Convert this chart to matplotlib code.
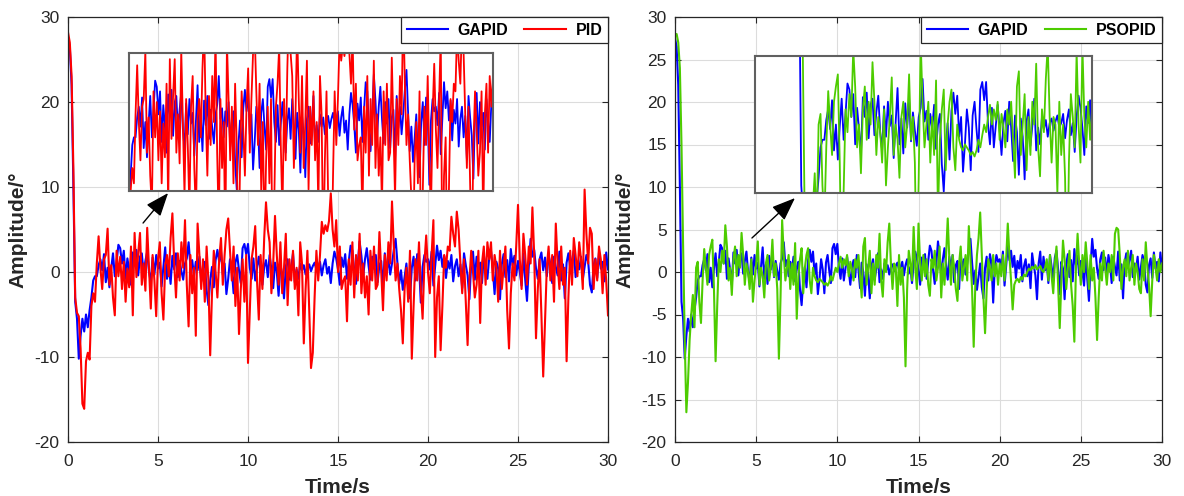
import numpy as np
import matplotlib
matplotlib.use("Agg")
import matplotlib.pyplot as plt

plt.rcParams['font.family'] = ['Liberation Sans', 'DejaVu Sans']
plt.rcParams['axes.unicode_minus'] = False

# ---- data (sampled every 0.1 s, 0..30 s) ----
dt = 0.1
gapid = [
    27.5, 26.5, 22.0, 10.0, -3.5, -5.5, -10.2, -7.5, -5.5, -7.0,
    -5.0, -6.5, -4.5, -3.0, -1.0, -0.5, -0.5, 0.8, 1.5, 0.2,
    2.1, -1.2, 0.5, -1.8, 0.4, 2.2, -0.5, 1.2, 3.2, 2.8,
    1.0, 2.5, -0.8, 1.6, 0.2, -1.5, 2.3, 1.0, 2.6, -0.4,
    1.8, 2.2, -0.2, 1.3, 2.4, 0.0, -1.2, 1.7, -0.3, 2.0,
    0.4, 1.1, -1.7, 0.6, 2.9, -0.8, 0.9, -1.4, 1.9, 0.3,
    2.2, -0.6, 1.3, 0.1, -0.9, 1.0, 1.6, 3.5, 0.7, 1.4,
    -0.5, 1.2, 0.2, 1.8, -1.1, 0.5, 1.2, -2.1, -3.9, -1.0,
    0.6, -1.8, 1.4, 2.6, 1.2, 2.4, -0.3, 1.0, -2.6, -0.8,
    1.5, 0.3, -2.5, 1.1, 2.0, 0.2, -1.3, 2.8, 3.3, 2.1,
    3.3, 0.5, -0.8, 1.6, -1.0, 0.4, 1.8, 0.2, -1.5, 0.6,
    1.4, -0.6, 2.0, 0.3, -1.9, 1.1, 0.0, -2.8, 0.9, -0.3,
    -3.1, 0.7, 1.5, -0.9, 0.4, 2.2, -1.2, 0.3, -0.8, 1.0,
    0.2, 0.8, -0.3, 0.6, 0.9, 0.1, 0.7, 1.1, 0.3, 0.6,
    1.2, -0.4, 0.8, 1.5, -0.2, 0.6, -1.3, 1.0, 2.4, 1.6,
    0.3, -1.5, 1.7, 0.6, 2.1, -0.8, 1.3, 3.1, 2.5, 0.2,
    -1.4, 1.0, 3.6, 1.9, -0.5, 1.5, 2.8, 0.7, -0.9, 1.8,
    0.4, 2.0, -1.2, 0.8, 1.3, -2.0, 2.2, 0.1, 1.5, -0.3,
    1.0, 2.6, 3.9, 1.1, -1.4, 0.2, -2.1, -0.6, 1.0, -1.8,
    -3.1, 0.5, 1.8, -1.0, 2.1, 1.0, -3.6, 0.6, 2.0, 1.2,
    1.5, 0.3, 2.4, -1.6, 0.8, 3.1, 1.4, 2.5, 0.6, 1.9,
    -0.7, 1.3, 0.4, 2.0, -1.1, 0.7, 1.5, -0.5, 0.9, -1.9,
    2.2, 0.8, -0.4, -3.2, 1.0, 2.4, -0.9, 1.8, 0.2, 1.1,
    -1.3, 2.0, 0.6, -0.8, 1.7, 2.5, 0.3, -2.6, 1.2, 0.4,
    -3.2, 0.9, 2.1, -0.6, 1.4, -1.1, 2.7, 0.8, 1.9, -0.4,
    1.3, 0.0, -1.6, 2.2, -0.9, -3.4, 0.7, 3.9, 1.8, 2.6,
    0.4, -0.8, 1.5, 2.3, 0.2, 1.7, -0.5, 2.0, 0.9, -1.3,
    1.8, 0.6, -0.4, 2.4, -1.0, 0.9, -3.1, 1.1, 2.2, 0.5,
    1.4, 2.5, -0.6, 1.0, 0.3, 1.8, -0.9, 0.6, 2.0, 1.2,
    -1.5, -2.4, 0.8, 1.6, -0.7, 2.3, 0.4, 1.2, -1.1, 2.3,
    0.3,
]
pid = [
    28.2, 27.0, 23.0, 12.0, -3.0, -4.8, -5.2, -9.0, -15.5, -16.1,
    -10.5, -9.5, -10.3, -4.0, -2.5, -3.5, 1.0, 4.2, 0.5, -2.0,
    1.5, 2.0, 5.1, -1.5, 0.8, -3.0, -5.1, 2.5, -0.5, 1.8,
    -2.0, 1.2, -3.5, 0.4, -1.8, 3.0, -5.1, 4.6, -0.6, 2.2,
    4.6, -1.5, 1.0, -2.2, 5.2, 0.3, -4.3, 2.0, -1.0, -5.2,
    1.5, 3.5, -2.5, -5.6, 0.8, 2.0, -0.5, 4.0, 6.9, 1.0,
    -3.0, 2.2, -1.0, 3.5, 0.5, 6.1, -1.5, -6.4, 2.0, -2.5,
    0.5, -7.5, 5.7, 2.0, -2.0, 1.5, -3.5, 3.0, -1.0, -9.8,
    -2.5, 2.5, 0.0, -3.0, 1.5, 4.0, -1.5, 2.0, 5.0, 6.3,
    2.5, -1.0, 3.0, -4.0, 0.5, -7.3, -2.0, 1.5, -3.5, 2.0,
    -10.7, -4.5, 1.5, 3.0, 5.4, -1.0, -5.6, 2.0, -2.0, 4.0,
    8.2, 5.0, 3.5, -2.5, 1.0, 6.6, 2.0, -1.5, 3.5, -2.5,
    0.5, 4.5, -3.9, 1.5, -1.0, 2.5, -2.0, 0.5, -5.1, 3.5,
    1.0, -8.4, -2.0, 2.5, -4.5, -11.3, -9.5, -3.0, 2.5, -1.0,
    2.0, 5.9, 4.5, 5.5, 4.8, 6.0, 9.25, 5.0, 3.0, 6.1,
    0.0, 3.0, -2.0, -1.0, -0.5, -5.8, 1.5, -1.5, 3.5, -3.0,
    2.0, -1.0, 4.5, -2.5, 1.0, -3.0, -0.5, -5.0, 2.5, -1.0,
    3.0, -2.0, -1.5, 4.7, 0.0, -4.5, 2.0, -1.0, 3.5, 1.0,
    8.3, 3.0, -1.0, 1.0, -2.0, -4.5, -8.4, -2.0, 0.5, -3.5,
    2.5, -10.2, -4.0, 1.5, -1.0, 3.5, -2.0, -5.5, 1.0, 4.3,
    0.0, -2.5, 2.0, 6.1, -10.0, -3.0, -0.5, -9.2, -4.0, 2.0,
    0.5, 3.0, 2.5, 6.5, 4.5, 3.0, 7.1, 5.0, 1.0, -2.5,
    1.5, -3.5, -8.6, -1.0, 2.5, 0.0, -3.0, -1.5, 2.5, -6.0,
    1.0, 3.0, -1.5, 3.5, 1.5, 3.5, -1.0, 2.0, 0.5, -3.5,
    2.5, -2.0, 0.5, 3.0, -4.5, -9.0, -2.5, 1.0, -1.0, 3.0,
    7.9, 1.5, -2.0, 4.5, 2.0, -1.5, 3.0, 1.0, 7.6, 2.0,
    -7.8, -2.0, 1.5, -5.0, -12.3, -6.0, 0.5, 3.0, -1.0, 2.0,
    -3.5, 5.7, 1.0, -2.0, 3.0, -1.5, 0.5, -10.5, -3.0, 2.5,
    -1.5, 4.0, 2.0, -0.5, 3.5, 1.5, -2.0, 9.7, 4.5, 1.0,
    5.2, 4.5, -2.0, 1.5, -1.0, 3.0, 1.5, -2.5, 2.0, -1.0,
    -5.1,
]
psopid = [
    27.8, 28.0, 27.0, 24.0, 15.0, 3.0, -8.0, -16.5, -13.0, -8.0,
    -5.0, -2.7, -6.5, 0.5, 1.2, -3.5, -6.0, -1.0, 2.7, 0.5,
    -1.5, 2.0, 3.0, 3.8, -2.0, -10.5, -4.0, 1.5, 0.0, 2.5,
    1.0, 5.5, 3.0, -1.0, 0.5, -2.7, 1.5, 3.0, -0.5, 2.0,
    0.5, 4.6, 2.0, -1.5, 1.0, 0.0, -2.0, 1.5, -3.5, -1.0,
    1.0, 3.6, -1.5, 0.5, -0.5, -3.0, 1.0, 2.0, -1.0, 0.5,
    3.8, -0.5, 1.0, -2.0, -10.2, -3.0, 6.1, 2.0, -1.0, 0.5,
    2.0, -2.0, 1.0, -1.5, 3.4, -5.5, -0.5, 1.5, 2.8, -2.5,
    0.5, 2.0, 2.8, -1.0, -2.5, 0.5, -0.5, -1.0, -1.2, -0.8,
    -1.0, -1.2, -1.5, -1.3, -1.6, -1.2, -0.5, -1.0, -0.2, 0.5,
    0.0, 1.0, 1.8, 0.5, 1.5, 0.8, 2.0, -0.5, 1.2, 0.3,
    -1.0, 1.5, 0.5, 2.0, -0.5, -3.0, 3.0, 4.0, -1.5, 0.5,
    2.5, -2.5, 1.0, -1.5, 2.0, 0.5, 4.5, -1.0, -2.9, 1.5,
    0.0, 3.5, 5.7, 1.0, -2.0, 1.0, 0.5, -4.0, 2.0, -1.5,
    0.5, -3.0, -11.1, -2.0, 2.5, 1.0, -1.0, 5.3, 0.5, -2.0,
    5.7, 1.0, -1.0, 2.0, -0.5, 1.5, -1.5, -2.8, 1.5, 0.5,
    2.5, -1.0, 0.5, 3.0, -3.0, 1.0, -1.5, 2.0, 6.3, 1.5,
    -1.5, 2.0, 0.5, -2.0, -3.4, 1.0, 3.0, -1.0, 0.5, 2.0,
    -1.0, 5.4, 1.5, -2.0, -8.8, -1.5, 2.0, 4.0, 7.0, 2.0,
    -3.0, -7.2, -2.0, 1.5, 0.5, -1.0, 2.0, -0.5, 1.0, -1.5,
    1.0, -0.5, 2.0, -1.0, 1.5, 5.7, 2.0, -1.0, -4.4, -1.5,
    -1.0, -0.8, -1.2, -0.6, -0.9, -0.3, -0.5, 0.0, 0.4, 0.2,
    0.6, 0.4, 0.8, 0.3, 0.5, 0.7, 0.2, 0.0, 0.5, 1.5,
    -1.0, 2.0, -0.5, -2.5, 1.0, 3.0, -1.5, -6.6, -1.0, 3.7,
    1.5, -2.0, 0.5, 2.5, -1.5, -4.0, -8.2, 0.5, 4.5, 1.0,
    -1.5, 2.0, 0.0, 3.5, 1.0, -2.0, 2.0, -1.0, 0.5, -3.0,
    -8.0, -3.0, 1.0, -1.0, 2.5, 0.5, -1.5, 1.0, 0.0, 2.0,
    -1.0, 4.5, 5.2, 5.0, 2.0, -2.0, 0.5, 1.5, -0.5, 2.5,
    -1.0, 0.5, 2.0, -1.5, 1.0, 0.0, -2.0, -2.5, 1.5, -1.0,
    3.5, 0.5, -1.5, -5.2, -1.0, 2.0, 0.5, -1.0, 1.5, 0.0,
    1.0,
]
t = np.arange(len(gapid)) * dt

xticks = [0, 5, 10, 15, 20, 25, 30]
yticks_left = [-20, -10, 0, 10, 20, 30]
yticks_right = [-20, -15, -10, -5, 0, 5, 10, 15, 20, 25, 30]

BLUE = '#0000FF'
RED = '#FF0000'
GREEN = '#4DCC00'

fig = plt.figure(figsize=(11.84, 4.96), dpi=100)
ax1 = fig.add_axes([68/1184, 1-442/496, 540/1184, 425/496])
ax2 = fig.add_axes([675/1184, 1-442/496, 487/1184, 425/496])


def style(ax, yticks):
    ax.set_xlim(0, 30)
    ax.set_ylim(-20, 30)
    ax.set_xticks(xticks)
    ax.set_yticks(yticks)
    ax.grid(True, color='#dcdcdc', lw=0.8)
    ax.set_axisbelow(True)
    ax.tick_params(direction='in', length=4, width=0.8, top=True, right=True,
                   labelsize=12.5, colors='#262626')
    ax.tick_params(axis='x', pad=9)
    ax.tick_params(axis='y', pad=6)
    for s in ax.spines.values():
        s.set_color('#262626')
        s.set_linewidth(0.9)
    ax.set_xlabel('Time/s', fontsize=15, fontweight='bold', color='#262626', labelpad=6)
    ax.set_ylabel('Amplitude/°', fontsize=15, fontweight='bold', color='#262626', labelpad=5)


def legend(ax):
    leg = ax.legend(loc='upper right', ncol=2, borderaxespad=0, fancybox=False,
                    framealpha=1, edgecolor='#262626', handlelength=2.6,
                    columnspacing=1.0, handletextpad=0.6,
                    prop={'weight': 'bold', 'size': 11.5}, borderpad=0.35)
    leg.get_frame().set_linewidth(0.9)


# left panel
ax1.plot(t, gapid, color=BLUE, lw=1.5, label='GAPID')
ax1.plot(t, pid, color=RED, lw=1.5, label='PID')
style(ax1, yticks_left)
legend(ax1)
ins1 = ax1.inset_axes([3.39, 9.53, 20.22, 16.23], transform=ax1.transData)
ins1.plot(t, gapid, color=BLUE, lw=1.3)
ins1.plot(t, pid, color=RED, lw=1.3)
ins1.set_xlim(1.2, 23.5)
ins1.set_ylim(-4, 5)
ins1.set_xticks([]); ins1.set_yticks([])
for s in ins1.spines.values():
    s.set_color('#606060'); s.set_linewidth(1.5)
ax1.annotate('', xy=(5.56, 9.29), xytext=(4.17, 5.76),
             arrowprops=dict(arrowstyle='-|>,head_length=0.9,head_width=0.35',
                             color='k', lw=1.0, mutation_scale=16, shrinkA=0, shrinkB=0))

# right panel
ax2.plot(t, gapid, color=BLUE, lw=1.5, label='GAPID')
ax2.plot(t, psopid, color=GREEN, lw=1.5, label='PSOPID')
style(ax2, yticks_right)
legend(ax2)
ins2 = ax2.inset_axes([4.93, 9.29, 20.76, 16.11], transform=ax2.transData)
ins2.plot(t, gapid, color=BLUE, lw=1.3)
ins2.plot(t, psopid, color=GREEN, lw=1.3)
ins2.set_xlim(-2.0, 15.5)
ins2.set_ylim(-4, 5)
ins2.set_xticks([]); ins2.set_yticks([])
for s in ins2.spines.values():
    s.set_color('#606060'); s.set_linewidth(1.5)
ax2.annotate('', xy=(7.39, 8.7), xytext=(4.74, 4.0),
             arrowprops=dict(arrowstyle='-|>,head_length=0.9,head_width=0.35',
                             color='k', lw=1.0, mutation_scale=16, shrinkA=0, shrinkB=0))

fig.savefig('out.png', dpi=100)
